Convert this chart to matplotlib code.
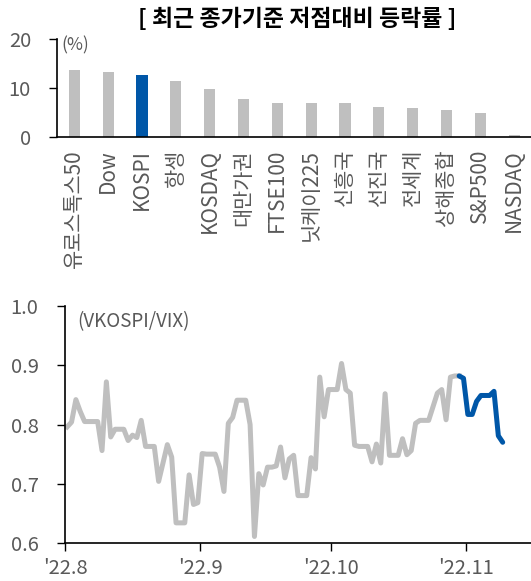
import matplotlib
matplotlib.use("Agg")
import matplotlib.pyplot as plt
import matplotlib.dates as mdates
import pandas as pd
import numpy as np

plt.rcParams['font.family'] = ['Noto Sans CJK KR', 'DejaVu Sans']

# ---- data: top bar chart ----
categories = ['유로스톡스50', 'Dow', 'KOSPI', '항셍', 'KOSDAQ', '대만가권', 'FTSE100',
              '닛케이225', '신흥국', '선진국', '전세계', '상해종합', 'S&P500', 'NASDAQ']
bar_values = [13.7, 13.2, 12.55, 11.4, 9.7, 7.7, 6.9, 6.9, 6.8, 6.0, 5.9, 5.4, 4.8, 0.35]
highlight = 'KOSPI'

# ---- data: bottom line chart (VKOSPI/VIX, daily) ----
gray_start = '2022-08-01'
gray_values = [
    # Aug
    0.796, 0.804, 0.842, 0.822, 0.805, 0.805, 0.805, 0.805, 0.756, 0.872,
    0.779, 0.792, 0.792, 0.792, 0.773, 0.782, 0.778, 0.807, 0.763, 0.763,
    0.763, 0.704, 0.735, 0.766, 0.745, 0.634, 0.634, 0.634, 0.715, 0.665,
    0.668,
    # Sep
    0.751, 0.750, 0.750, 0.750, 0.728, 0.687, 0.802, 0.812, 0.841, 0.841,
    0.841, 0.800, 0.611, 0.717, 0.698, 0.728, 0.728, 0.730, 0.762, 0.710,
    0.742, 0.748, 0.680, 0.680, 0.680, 0.744, 0.725, 0.880, 0.813, 0.859,
    # Oct
    0.859, 0.859, 0.903, 0.859, 0.853, 0.765, 0.763, 0.763, 0.763, 0.737,
    0.767, 0.735, 0.852, 0.748, 0.748, 0.748, 0.776, 0.749, 0.756, 0.802,
    0.807, 0.807, 0.807, 0.830, 0.853, 0.859, 0.808, 0.880, 0.882, 0.882,
]
blue_start = '2022-10-30'
blue_values = [0.882, 0.878, 0.817, 0.817, 0.839, 0.849, 0.849, 0.849, 0.856, 0.781, 0.770]

month_ticks = ['2022-08-01', '2022-09-01', '2022-10-01', '2022-11-01']
month_labels = ["'22.8", "'22.9", "'22.10", "'22.11"]

GRAY = '#BFBFBF'
BLUE = '#0057A8'
TXT = '#595959'

fig = plt.figure(figsize=(5.31, 5.81), dpi=100)

# ---------- top chart ----------
ax1 = fig.add_axes([0.108, 0.7649, 0.892, 0.1683])
x = np.arange(len(categories))
colors = [BLUE if c == highlight else GRAY for c in categories]
ax1.bar(x, bar_values, width=0.33, color=colors, zorder=2)
ax1.set_xlim(-0.5, len(categories) - 0.5)
ax1.set_ylim(0, 20)
ax1.set_yticks([0, 10, 20])
ax1.set_xticks(x)
ax1.set_xticklabels(categories, rotation=90, fontsize=15, color=TXT, va='top', ha='center')
ax1.tick_params(axis='x', length=0, pad=9)
ax1.tick_params(axis='y', direction='out', length=6, width=1, colors='black', labelcolor=TXT,
                labelsize=14.5, pad=13)
for s in ['top', 'right']:
    ax1.spines[s].set_visible(False)
for s in ['left', 'bottom']:
    ax1.spines[s].set_color('black')
    ax1.spines[s].set_linewidth(1.2)
ax1.text(0.008, 0.93, '(%)', transform=ax1.transAxes, fontsize=12.5, color=TXT,
         ha='left', va='center')
fig.text(0.56, 0.966, '[ 최근 종가기준 저점대비 등락률 ]', ha='center', va='center',
         fontsize=16.5, fontweight='bold', color='black')

# ---------- bottom chart ----------
ax2 = fig.add_axes([0.1224, 0.0654, 0.8776, 0.4079])
gdates = pd.date_range(gray_start, periods=len(gray_values), freq='D') + pd.Timedelta(hours=12)
bdates = pd.date_range(blue_start, periods=len(blue_values), freq='D') + pd.Timedelta(hours=12)
ax2.plot(gdates, gray_values, color=GRAY, lw=3.6, solid_joinstyle='round', zorder=2)
ax2.plot(bdates, blue_values, color=BLUE, lw=3.6, solid_joinstyle='round',
         solid_capstyle='round', zorder=3)
ax2.set_ylim(0.6, 1.0)
ax2.set_yticks([0.6, 0.7, 0.8, 0.9, 1.0])
ax2.yaxis.set_major_formatter(matplotlib.ticker.FormatStrFormatter('%.1f'))
ax2.set_xlim(pd.Timestamp('2022-08-01'), pd.Timestamp('2022-11-16'))
ax2.set_xticks(pd.to_datetime(month_ticks))
ax2.set_xticklabels(month_labels)
ax2.tick_params(axis='x', direction='out', length=6, width=1, colors='black',
                labelcolor=TXT, labelsize=14.5, pad=5)
ax2.tick_params(axis='y', direction='out', length=6, width=1, colors='black',
                labelcolor=TXT, labelsize=14.5, pad=13)
for s in ['top', 'right']:
    ax2.spines[s].set_visible(False)
for s in ['left', 'bottom']:
    ax2.spines[s].set_color('black')
    ax2.spines[s].set_linewidth(1.2)
ax2.text(0.027, 0.935, '(VKOSPI/VIX)', transform=ax2.transAxes, fontsize=13.5, color=TXT,
         ha='left', va='center')

fig.savefig('out.png', dpi=100)
